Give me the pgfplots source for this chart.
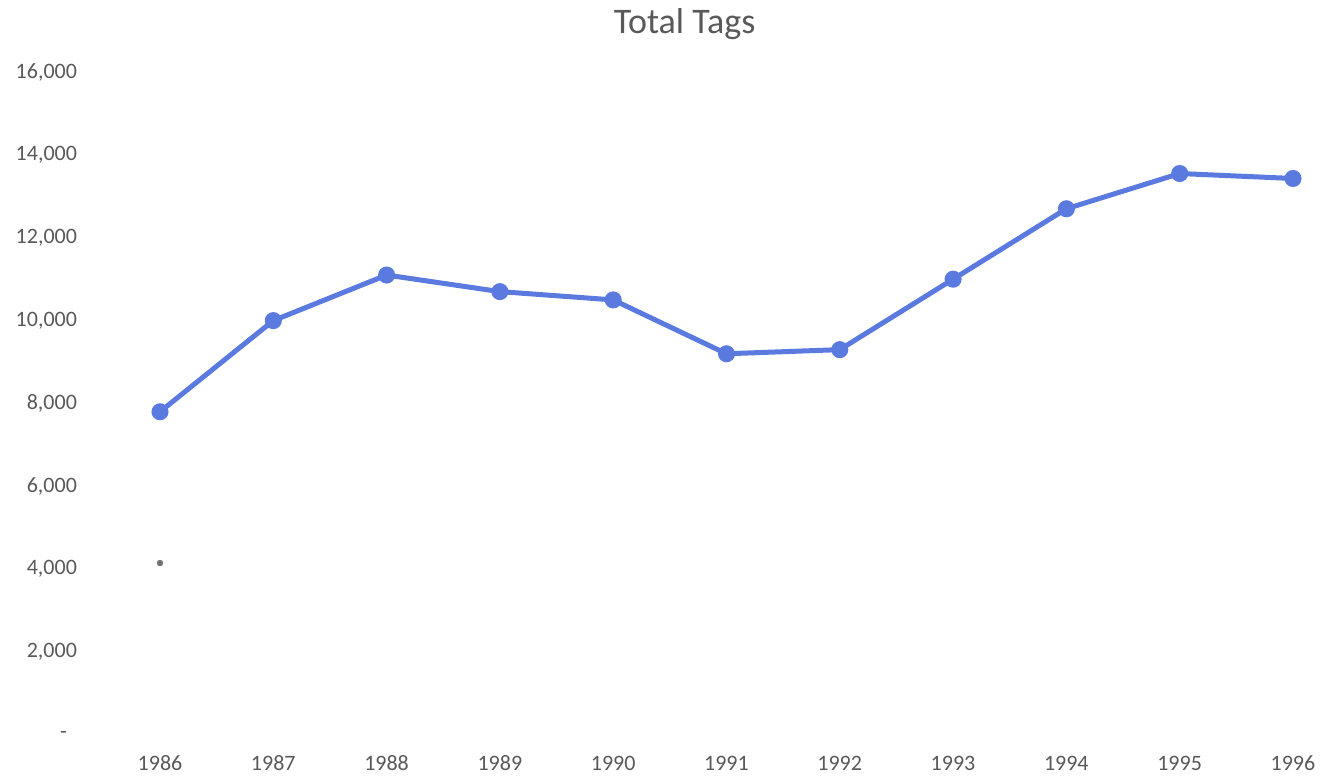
\documentclass[border=0pt]{standalone}
\usepackage{fontspec}
\setmainfont{Carlito}
\usepackage{pgfplots}
\pgfplotsset{compat=1.18}
\definecolor{lineblue}{RGB}{91,122,224}
\definecolor{txt}{RGB}{89,89,89}
\begin{document}
\begin{tikzpicture}[x=1pt,y=1pt]
\path[use as bounding box] (0,0) rectangle (661.5,389);
\begin{axis}[
  at={(80pt,21.5pt)}, anchor=south west,
  scale only axis, width=566.5pt, height=331.5pt,
  xmin=1986, xmax=1996, ymin=0, ymax=16000,
  axis line style={draw=none}, clip=false,
  scaled y ticks=false, scaled x ticks=false,
  xtick={1986,...,1996},
  xticklabels={1986,1987,1988,1989,1990,1991,1992,1993,1994,1995,1996},
  ytick={0,2000,...,16000},
  yticklabels={{-\rule{5pt}{0pt}},{2,000},{4,000},{6,000},{8,000},{10,000},{12,000},{14,000},{16,000}},
  /pgf/number format/assume math mode=true,
  tick label style={font=\fontsize{11}{13}\selectfont, text=txt},
  yticklabel style={anchor=east, xshift=-38pt},
  xticklabel style={anchor=center, yshift=-14pt},
  major tick length=0pt, tick style={draw=none},
  title={Total Tags},
  title style={font=\fontsize{18}{20}\selectfont, text=txt, at={(0.463,1)}, anchor=center, yshift=18pt},
]
\addplot[color=lineblue, line width=2.5pt, mark=*, mark size=3pt, mark options={fill=lineblue, draw=lineblue}] coordinates {
(1986,7800) (1987,10000) (1988,11100) (1989,10700) (1990,10500)
(1991,9200) (1992,9300) (1993,11000) (1994,12700) (1995,13550) (1996,13430)
};
\addplot[only marks, mark=*, mark size=1.4pt, color=black!55] coordinates {(1986,4150)};
\end{axis}
\end{tikzpicture}
\end{document}
